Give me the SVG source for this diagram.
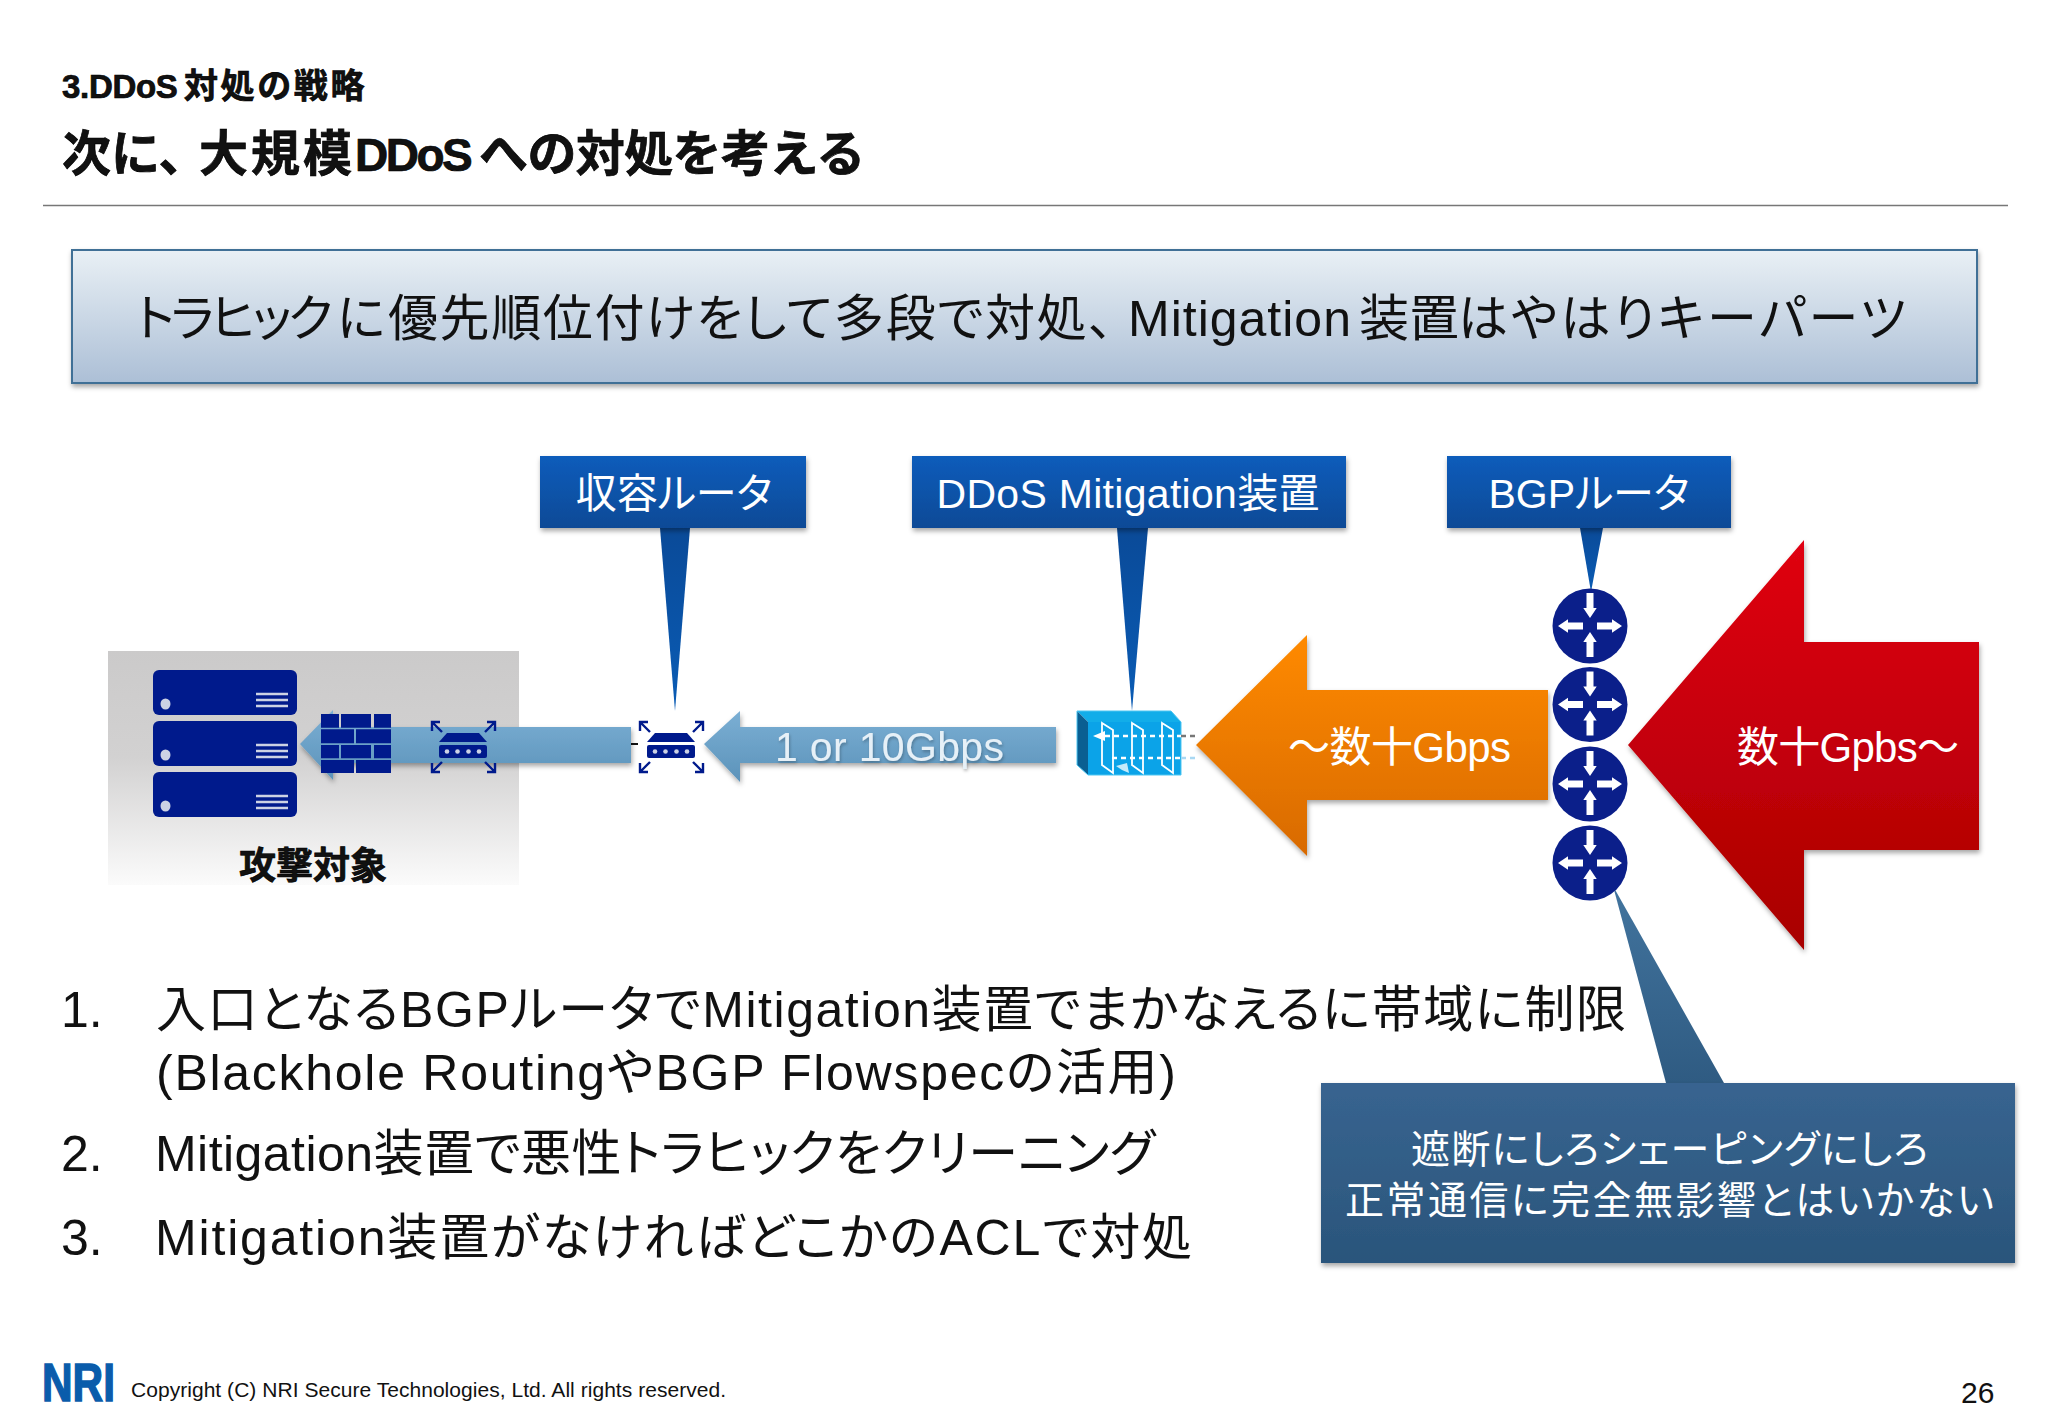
<svg xmlns="http://www.w3.org/2000/svg" width="2048" height="1418" viewBox="0 0 2048 1418">
<defs>
<style>
text{font-family:"Liberation Sans","Noto Sans CJK JP",sans-serif;font-feature-settings:"palt";fill:#111}
.b{font-weight:700;stroke:#000;stroke-width:.7}
.t{font-feature-settings:normal}
.body{font-size:50px}
.call{font-size:41px;fill:#fff;text-anchor:middle}
.big{font-size:42px;fill:#fff}
.note{font-size:39px;fill:#fff}
.dev{fill:#001a8c}
.w{fill:#fff}
</style>
<linearGradient id="gBanner" x1="0" y1="0" x2="0" y2="1"><stop offset="0" stop-color="#e9f0f5"/><stop offset="1" stop-color="#acbfd6"/></linearGradient>
<linearGradient id="gCall" x1="0" y1="0" x2="0" y2="1"><stop offset="0" stop-color="#0a5cbb"/><stop offset="1" stop-color="#0a4a96"/></linearGradient>
<linearGradient id="gTail" x1="0" y1="0" x2="0" y2="1"><stop offset="0" stop-color="#0a4a98"/><stop offset="1" stop-color="#0a5cb5"/></linearGradient>
<linearGradient id="gTailN" x1="0" y1="0" x2="0" y2="1"><stop offset="0" stop-color="#42749e"/><stop offset="1" stop-color="#2f5b82"/></linearGradient>
<linearGradient id="gPanel" x1="0" y1="0" x2="0" y2="1"><stop offset="0" stop-color="#cbcaca"/><stop offset=".45" stop-color="#d2d1d1"/><stop offset="1" stop-color="#fbfbfb"/></linearGradient>
<linearGradient id="gBlue" x1="0" y1="0" x2="0" y2="1"><stop offset="0" stop-color="#7bafd4"/><stop offset="1" stop-color="#5c93ba"/></linearGradient>
<linearGradient id="gOrange" x1="0" y1="0" x2="0" y2="1"><stop offset="0" stop-color="#ff8a00"/><stop offset="1" stop-color="#d86a00"/></linearGradient>
<linearGradient id="gRed" x1="0" y1="0" x2="0" y2="1"><stop offset="0" stop-color="#e00012"/><stop offset="1" stop-color="#a80000"/></linearGradient>
<linearGradient id="gNote" x1="0" y1="0" x2="0" y2="1"><stop offset="0" stop-color="#386490"/><stop offset="1" stop-color="#2a557b"/></linearGradient>
<filter id="sh" x="-10%" y="-10%" width="120%" height="125%"><feDropShadow dx="1" dy="3" stdDeviation="2.5" flood-color="#000" flood-opacity=".35"/></filter>
<filter id="ts" x="-5%" y="-10%" width="110%" height="130%"><feDropShadow dx="1" dy="2" stdDeviation="1.500" flood-color="#000" flood-opacity=".25"/></filter>
<g id="router">
<circle r="37.5" style="fill:#0b1f8a"/>
<path class="w" d="M-3.500-33H3.500V-18H6.700L0-8-6.700-18H-3.500Z"/>
<path class="w" d="M-3.500 31H3.500V16H6.700L0 6-6.700 16H-3.500Z"/>
<path class="w" d="M-7-3.500H-22V-6.700L-32 0-22 6.700V3.500H-7Z"/>
<path class="w" d="M7-3.500H22V-6.700L32 0 22 6.700V3.500H7Z"/>
</g>
<g id="switch">
<path class="dev" d="M-16-14H16L24-5H-24Z"/>
<rect class="dev" x="-24" y="-2" width="48" height="13" rx="2"/>
<g fill="#ccd2e4"><circle cx="-16" cy="4.500" r="2.300"/><circle cx="-5.500" cy="4.500" r="2.300"/><circle cx="5.500" cy="4.500" r="2.300"/><circle cx="16" cy="4.500" r="2.300"/></g>
<path fill="none" stroke="#001a8c" stroke-width="2.400" d="M-21-15-31-25M-31-16V-25H-23M22-15 32-25M32-16V-25H24M-21 15-31 25M-31 16V25H-23M22 15 32 25M32 16V25H24"/>
</g>
<g id="srv">
<rect class="dev" width="144" height="45" rx="6"/>
<ellipse cx="12.500" cy="34" rx="5" ry="5.500" fill="#ccd2e4"/>
<path stroke="#ccd2e4" stroke-width="2.500" d="M103 24H135M103 30H135M103 36H135"/>
</g>
</defs>
<rect width="2048" height="1418" fill="#fff"/>

<g id="header">
<text class="b t" y="98" font-size="34"><tspan x="62" font-size="33" letter-spacing="-.3">3.DDoS</tspan><tspan x="184" letter-spacing="2.600">対処の戦略</tspan></text>
<text class="b t" y="171" font-size="49"><tspan x="62">次に、</tspan><tspan x="199" letter-spacing="3">大規模</tspan><tspan x="355" font-size="46" letter-spacing="-2.500">DDoS</tspan><tspan x="479" letter-spacing="-.6">への対処を考える</tspan></text>
<path d="M43 205.500H2008" stroke="#777" stroke-width="1.500"/>
</g>

<g id="banner">
<rect x="72" y="250" width="1905" height="133" fill="url(#gBanner)" stroke="#3f6f96" stroke-width="2" filter="url(#sh)"/>
<text y="336" font-size="50"><tspan x="136" letter-spacing="-3.500">トラヒック</tspan><tspan x="337">に</tspan><tspan x="388" letter-spacing="1.600">優先順位付けをして多段で対処、</tspan><tspan x="1128" letter-spacing="1">Mitigation</tspan><tspan x="1359">装置</tspan><tspan x="1458" letter-spacing="2.800">はやはりキーパーツ</tspan></text>
</g>

<g id="target">
<rect x="108" y="651" width="411" height="234" fill="url(#gPanel)"/>
<use href="#srv" x="153" y="670"/>
<use href="#srv" x="153" y="721"/>
<use href="#srv" x="153" y="772"/>
<text class="b" x="239" y="879" font-size="37" textLength="148">攻撃対象</text>
</g>

<g id="connectors">
<path d="M660 528H690L675 711Z" fill="url(#gTail)"/>
<path d="M1117 528H1148L1132 711Z" fill="url(#gTail)"/>
<path d="M1580 528H1603L1591 592Z" fill="url(#gTail)"/>
<path d="M1613 886 1666 1083H1724Z" fill="url(#gTailN)"/>
<path d="M631 744H638" stroke="#111" stroke-width="2"/>
<path d="M631 727V763H333V780L300 744 333 710V727Z" fill="url(#gBlue)" filter="url(#sh)"/>
<path d="M1056 727V763H740V782L704 744 740 711V727Z" fill="url(#gBlue)" filter="url(#sh)"/>
<path d="M1548 690V800H1307V856L1196 745 1307 635V690Z" fill="url(#gOrange)" filter="url(#sh)"/>
<path d="M1979 642V850H1804V950L1628 745 1804 540V642Z" fill="url(#gRed)" filter="url(#sh)"/>
<text x="775" y="761" font-size="41" style="fill:#e6f0f7" filter="url(#ts)" textLength="229">1 or 10Gbps</text>
<text class="big" x="1288" y="762" textLength="223">～数十Gbps</text>
<text class="big" x="1737" y="762" textLength="222">数十Gpbs～</text>
</g>

<g id="firewall">
<path class="dev" d="M321 714H339V727.700H321ZM341 714H371V727.700H341ZM374 714H391V727.700H374ZM321 729.300H354V743.300H321ZM356 729.300H391V743.300H356ZM321 745H339V758.300H321ZM341 745H371V758.300H341ZM374 745H391V758.300H374ZM321 760H354V773H321ZM356 760H391V773H356Z"/>
</g>
<g id="switch-inner"><use href="#switch" x="463" y="747"/></g>
<g id="switch-edge"><use href="#switch" x="671" y="747"/></g>

<g id="mitigation">
<path d="M1077 711H1171L1181 722H1088Z" fill="#12ade9"/>
<path d="M1077 711 1088 722V775L1077 765Z" fill="#0a5f92"/>
<rect x="1088" y="722" width="93" height="53" fill="#0ba3e8"/>
<path d="M1077 711H1171L1181 722V775H1088L1077 765Z" fill="none" stroke="#4cc6f2" stroke-width="1"/>
<g fill="none" stroke="#fff" stroke-width="1.800">
<path d="M1102 723 1113 730V773L1102 765Z"/>
<path d="M1132 723 1143 730V773L1132 765Z"/>
<path d="M1162 723 1173 730V773L1162 765Z"/>
</g>
<path d="M1105 736H1181" stroke="#fff" stroke-width="2.500" stroke-dasharray="5 4"/>
<path d="M1181 736H1196" stroke="#777" stroke-width="2.500" stroke-dasharray="5 4"/>
<path d="M1112 758H1181" stroke="#fff" stroke-width="2.500" stroke-dasharray="5 4"/>
<path d="M1181 758H1196" stroke="#a9d8f3" stroke-width="2.500" stroke-dasharray="5 4"/>
<path class="w" d="M1093 736 1105 731V741Z"/>
<path d="M1116 766 1127 763 1129 773 1122 770Z" fill="#c4ebfa"/>
</g>

<g id="routers">
<use href="#router" x="1590" y="626"/>
<use href="#router" x="1590" y="704.500"/>
<use href="#router" x="1590" y="784"/>
<use href="#router" x="1590" y="863"/>
</g>

<g id="label-access">
<rect x="540" y="456" width="266" height="72" fill="url(#gCall)" filter="url(#sh)"/>
<text class="call" x="674" y="508">収容ルータ</text>
</g>
<g id="label-mitigation">
<rect x="912" y="456" width="434" height="72" fill="url(#gCall)" filter="url(#sh)"/>
<text class="call" x="1128" y="508" textLength="383">DDoS Mitigation装置</text>
</g>
<g id="label-bgp">
<rect x="1447" y="456" width="284" height="72" fill="url(#gCall)" filter="url(#sh)"/>
<text class="call" x="1589" y="508">BGPルータ</text>
</g>

<g id="list">
<text class="body" x="61" y="1027">1.</text>
<text class="body" x="156" y="1027" textLength="1470">入口となるBGPルータでMitigation装置でまかなえるに帯域に制限</text>
<text class="body" x="156" y="1090" textLength="1020">(Blackhole RoutingやBGP Flowspecの活用)</text>
<text class="body" x="61" y="1171">2.</text>
<text class="body" x="155" y="1171" textLength="1000">Mitigation装置で悪性トラヒックをクリーニング</text>
<text class="body" x="61" y="1255">3.</text>
<text class="body" x="155" y="1255" textLength="1037">Mitigation装置がなければどこかのACLで対処</text>
</g>

<g id="note">
<rect x="1321" y="1083" width="694" height="180" fill="url(#gNote)" filter="url(#sh)"/>
<text class="note" x="1411" y="1163" textLength="517">遮断にしろシェーピングにしろ</text>
<text class="note" x="1345" y="1214" textLength="649">正常通信に完全無影響とはいかない</text>
</g>

<g id="footer">
<text class="b" x="42" y="1401" font-size="53" textLength="73" lengthAdjust="spacingAndGlyphs" style="fill:#0a5cab;stroke:#0a5cab;stroke-width:1.500">NRI</text>
<text x="131" y="1397" font-size="21" textLength="595" fill="#222">Copyright (C) NRI Secure Technologies, Ltd. All rights reserved.</text>
<text x="1961" y="1403" font-size="30">26</text>
</g>
</svg>
